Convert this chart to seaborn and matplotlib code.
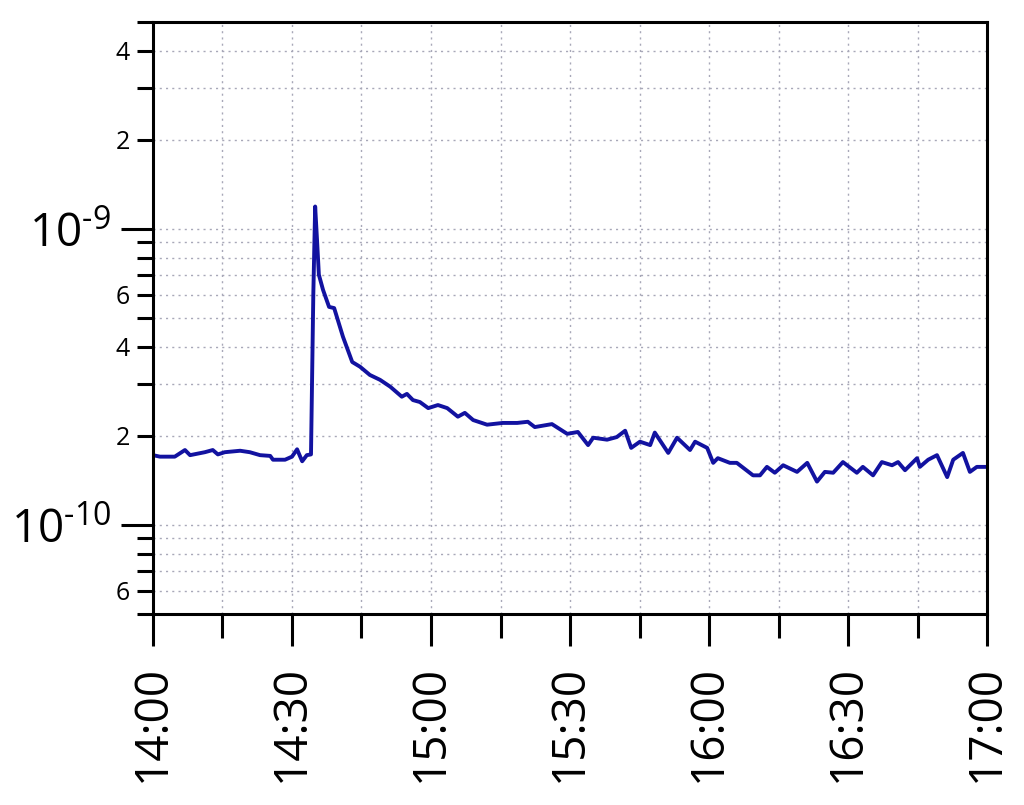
import numpy as np
import pandas as pd
import matplotlib
matplotlib.use("Agg")
import matplotlib.pyplot as plt
import matplotlib.dates as mdates
from matplotlib.ticker import FixedLocator, FuncFormatter, NullFormatter
import seaborn as sns

# minutes after 14:00 and reading (in units of 1e-10)
minutes = [0, 1.5, 4.7, 6.9, 8.0, 11.2, 12.9, 14.0, 15.5, 18.8, 20.9, 23.1, 25.3, 25.9,
           28.5, 30.0, 31.1, 31.7, 32.2, 33.2, 34.1, 34.6, 35.0, 35.4, 35.8, 36.7,
           38.0, 39.1, 41.0, 43.0, 44.7, 46.8, 49.0, 51.2, 53.7, 54.8, 56.1, 57.6,
           59.4, 61.5, 63.5, 65.8, 67.3, 69.1, 72.1, 75.5, 78.6, 80.9, 82.4, 86.1,
           89.4, 91.7, 93.9, 95.0, 98.0, 100.1, 101.9, 103.2, 105.1, 107.3, 108.3,
           111.2, 113.1, 115.9, 117.0, 119.6, 120.9, 121.9, 124.5, 126.0, 129.5,
           131.0, 132.5, 134.2, 136.0, 139.0, 141.2, 143.3, 145.0, 146.8, 148.9,
           151.9, 153.2, 155.4, 157.3, 159.5, 160.8, 162.3, 164.9, 165.5, 167.3,
           169.2, 171.4, 172.7, 174.8, 176.3, 177.8, 180.0]
reading = [1.72, 1.70, 1.70, 1.79, 1.72, 1.76, 1.79, 1.73, 1.76, 1.78, 1.76, 1.72, 1.71, 1.66,
           1.66, 1.70, 1.80, 1.71, 1.64, 1.72, 1.73, 6.0, 11.9, 9.18, 7.0, 6.22,
           5.45, 5.40, 4.32, 3.55, 3.42, 3.21, 3.09, 2.93, 2.71, 2.77, 2.64, 2.60,
           2.48, 2.54, 2.48, 2.32, 2.39, 2.26, 2.18, 2.21, 2.21, 2.23, 2.14, 2.19,
           2.03, 2.06, 1.86, 1.97, 1.94, 1.98, 2.08, 1.82, 1.91, 1.86, 2.05,
           1.75, 1.97, 1.79, 1.91, 1.82, 1.62, 1.68, 1.62, 1.62, 1.47,
           1.47, 1.57, 1.50, 1.59, 1.51, 1.62, 1.40, 1.51, 1.50, 1.63,
           1.50, 1.57, 1.47, 1.63, 1.59, 1.63, 1.53, 1.68, 1.57, 1.66,
           1.72, 1.45, 1.66, 1.75, 1.51, 1.57, 1.57]

# log axis tick positions inside the 5e-11 .. 5e-9 range
decade_ticks = [1e-10, 1e-9]
sub_ticks = [5e-11, 6e-11, 7e-11, 8e-11, 9e-11,
             2e-10, 3e-10, 4e-10, 5e-10, 6e-10, 7e-10, 8e-10, 9e-10,
             2e-9, 3e-9, 4e-9, 5e-9]

start = pd.Timestamp("2000-01-01 14:00")
end = pd.Timestamp("2000-01-01 17:00")
df = pd.DataFrame({
    "time": start + pd.to_timedelta(minutes, unit="m"),
    "value": np.array(reading) * 1e-10,
})

sns.set_style("white")
plt.rcParams["font.family"] = ["Open Sans", "DejaVu Sans"]
plt.rcParams["mathtext.fontset"] = "custom"
plt.rcParams["mathtext.rm"] = "Open Sans"

fig = plt.figure(figsize=(10.24, 8.05), dpi=100)
ax = fig.add_axes([0.1494, 0.2373, 0.8145, 0.7354])

sns.lineplot(data=df, x="time", y="value", ax=ax, color="#1212a0", linewidth=2.8)

ax.set_yscale("log")
ax.set_ylim(5e-11, 5e-9)
ax.set_xlim(start, end)

ax.yaxis.set_major_locator(FixedLocator(decade_ticks))
ax.yaxis.set_minor_locator(FixedLocator(sub_ticks))


def major_fmt(v, pos):
    e = int(round(np.log10(v)))
    return r"$\mathregular{10^{\text{-}%d}}$" % abs(e)


def minor_fmt(v, pos):
    # only 2, 4 and 6 get a label
    lead = int(round(v / 10 ** np.floor(np.log10(v) + 1e-9)))
    return str(lead) if lead in (2, 4, 6) else ""


ax.yaxis.set_major_formatter(FuncFormatter(major_fmt))
ax.yaxis.set_minor_formatter(FuncFormatter(minor_fmt))

ax.xaxis.set_major_locator(mdates.MinuteLocator(byminute=[0, 30]))
ax.xaxis.set_minor_locator(mdates.MinuteLocator(byminute=[15, 45]))
ax.xaxis.set_major_formatter(mdates.DateFormatter("%H:%M"))
ax.xaxis.set_minor_formatter(NullFormatter())

ax.tick_params(axis="y", which="major", direction="out", length=23, width=2.2,
               labelsize=33, pad=7, left=True, color="black", labelcolor="black")
ax.tick_params(axis="y", which="minor", direction="out", length=11.5, width=2.2,
               labelsize=18, pad=5, left=True, color="black", labelcolor="black")
ax.tick_params(axis="x", which="major", direction="out", length=23, width=2.2,
               labelsize=33, pad=14, bottom=True, labelrotation=90,
               color="black", labelcolor="black")
ax.tick_params(axis="x", which="minor", direction="out", length=17, width=2.2,
               bottom=True, color="black")

ax.grid(True, which="both", color="#a8a8b8", linestyle=(0, (1.5, 3)), linewidth=1)
for s in ax.spines.values():
    s.set_visible(True)
    s.set_color("black")
    s.set_linewidth(2.2)

ax.set_xlabel("")
ax.set_ylabel("")

fig.savefig("out.png", dpi=100)
